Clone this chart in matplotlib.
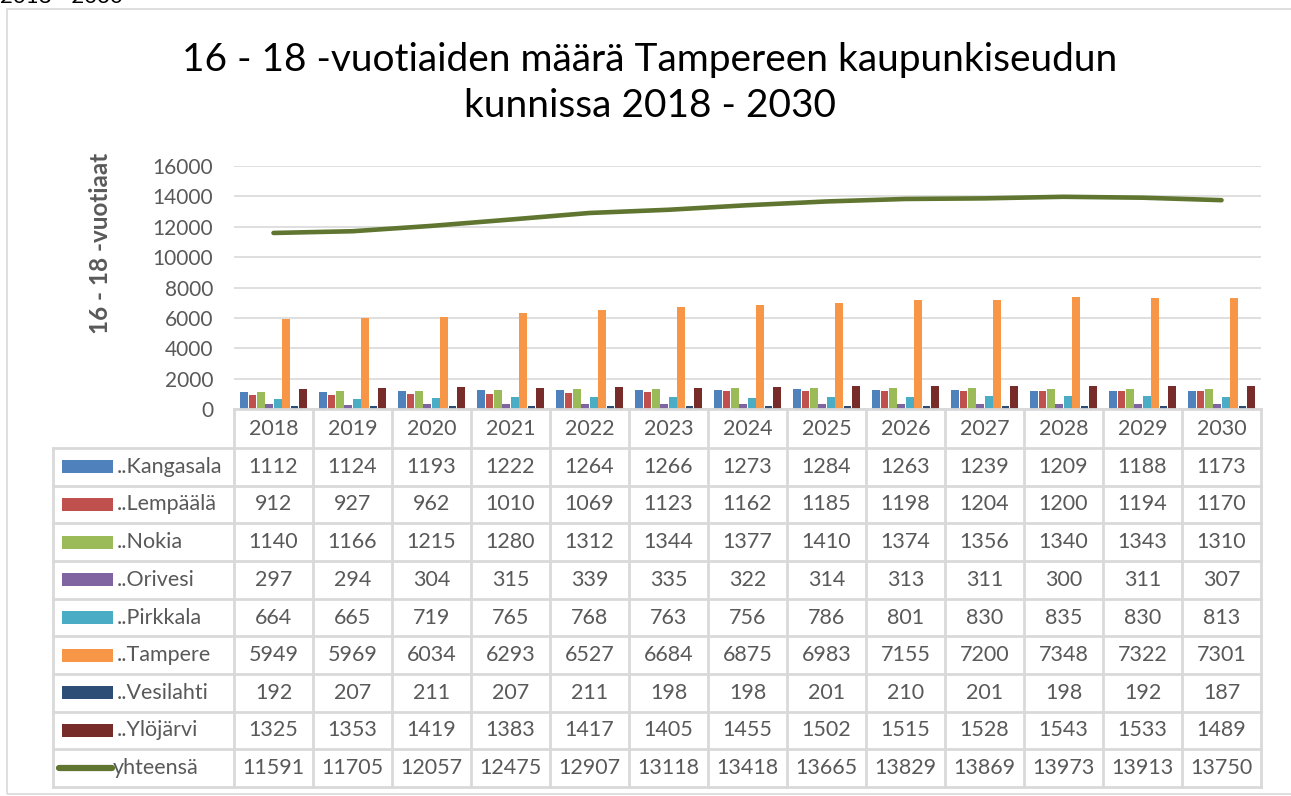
import matplotlib
matplotlib.use("Agg")
import matplotlib.pyplot as plt
from matplotlib.transforms import blended_transform_factory
from matplotlib.lines import Line2D
from matplotlib.patches import Rectangle

plt.rcParams['font.family'] = ['Lato', 'DejaVu Sans']

years = [2018, 2019, 2020, 2021, 2022, 2023, 2024, 2025, 2026, 2027, 2028, 2029, 2030]
kangasala = [1112, 1124, 1193, 1222, 1264, 1266, 1273, 1284, 1263, 1239, 1209, 1188, 1173]
lempaala = [912, 927, 962, 1010, 1069, 1123, 1162, 1185, 1198, 1204, 1200, 1194, 1170]
nokia = [1140, 1166, 1215, 1280, 1312, 1344, 1377, 1410, 1374, 1356, 1340, 1343, 1310]
orivesi = [297, 294, 304, 315, 339, 335, 322, 314, 313, 311, 300, 311, 307]
pirkkala = [664, 665, 719, 765, 768, 763, 756, 786, 801, 830, 835, 830, 813]
tampere = [5949, 5969, 6034, 6293, 6527, 6684, 6875, 6983, 7155, 7200, 7348, 7322, 7301]
vesilahti = [192, 207, 211, 207, 211, 198, 198, 201, 210, 201, 198, 192, 187]
ylojarvi = [1325, 1353, 1419, 1383, 1417, 1405, 1455, 1502, 1515, 1528, 1543, 1533, 1489]
yhteensa = [11591, 11705, 12057, 12475, 12907, 13118, 13418, 13665, 13829, 13869, 13973, 13913, 13750]

bar_names = ['..Kangasala', '..Lempäälä', '..Nokia', '..Orivesi', '..Pirkkala',
             '..Tampere', '..Vesilahti', '..Ylöjärvi']
bar_series = [kangasala, lempaala, nokia, orivesi, pirkkala, tampere, vesilahti, ylojarvi]
bar_colors = ['#4F81BD', '#C0504D', '#9BBB59', '#8064A2', '#4BACC6',
              '#F79646', '#2C4D75', '#772C2A']
line_name = 'yhteensä'
line_color = '#5F7530'
yticks = list(range(0, 16001, 2000))

W, H = 1291, 796
fig = plt.figure(figsize=(W / 100, H / 100), dpi=100)

def fx(px):
    return px / W

def fy(py):
    return 1 - py / H

ax_left, ax_right, ax_top, ax_bot = 234, 1261, 166, 409
ax = fig.add_axes([fx(ax_left), fy(ax_bot), fx(ax_right) - fx(ax_left), fy(ax_top) - fy(ax_bot)])
n = len(years)
ax.set_xlim(0, n)
ax.set_ylim(0, 16000)

slot = 0.106
bw = 0.098
for k, (vals, c) in enumerate(zip(bar_series, bar_colors)):
    xs = [i + 0.5 + (k - 3.5) * slot for i in range(n)]
    ax.bar(xs, vals, width=bw, color=c, zorder=3, linewidth=0)
ax.plot([i + 0.5 for i in range(n)], yhteensa, color=line_color, lw=3.3, zorder=4,
        solid_capstyle='round')

ax.set_yticks(yticks)
ax.set_yticklabels([str(v) for v in yticks], fontsize=15, color='#595959')
ax.tick_params(axis='y', length=0, pad=15)
ax.set_xticks([])
ax.grid(axis='y', color='#D9D9D9', lw=1.2, zorder=0)
for s in ax.spines.values():
    s.set_visible(False)

# y label
fig.text(fx(100), fy(243), '16 - 18 -vuotiaat', rotation=90, ha='center', va='center',
         fontsize=17.5, fontweight='bold', color='#595959')

# title
fig.text(fx(650), fy(60), '16 - 18 -vuotiaiden määrä Tampereen kaupunkiseudun',
         ha='center', va='center', fontsize=28, color='#000000')
fig.text(fx(650), fy(106), 'kunnissa 2018 - 2030',
         ha='center', va='center', fontsize=28, color='#000000')

# cut-off text at very top
fig.text(0.0, fy(3), '2018 - 2030', ha='left', va='baseline', fontsize=16, color='#000000')

# outer chart frame
fig.add_artist(Rectangle((fx(7), fy(794)), fx(1300) - fx(7), fy(9) - fy(794),
                         transform=fig.transFigure, fill=False, ec='#D9D9D9', lw=1.2))

# data table
tr = blended_transform_factory(ax.transData, fig.transFigure)
grid_c = '#D9D9D9'
head_top, head_bot = 409, 448
nrows = len(bar_series) + 1
row_h = (787 - 448) / nrows
table_left = 53
tbl_bot = head_bot + nrows * row_h

fig.add_artist(Line2D([fx(ax_left), fx(ax_right)], [fy(head_top), fy(head_top)],
                      transform=fig.transFigure, color=grid_c, lw=2))
for r in range(nrows + 1):
    yy = fy(head_bot + r * row_h)
    fig.add_artist(Line2D([fx(table_left), fx(ax_right)], [yy, yy],
                          transform=fig.transFigure, color=grid_c, lw=2))
for i in range(n + 1):
    fig.add_artist(Line2D([i, i], [fy(head_top), fy(tbl_bot)], transform=tr,
                          color=grid_c, lw=2))
fig.add_artist(Line2D([fx(table_left), fx(table_left)], [fy(head_bot), fy(tbl_bot)],
                      transform=fig.transFigure, color=grid_c, lw=2))

txt_c = '#595959'
fs = 15.5
for i, yv in enumerate(years):
    fig.text(i + 0.5, fy((head_top + head_bot) / 2 + 1), str(yv), transform=tr,
             ha='center', va='center', fontsize=fs, color=txt_c)

all_rows = list(zip(bar_names, bar_series, bar_colors)) + [(line_name, yhteensa, line_color)]
for r, (name, vals, c) in enumerate(all_rows):
    yc = head_bot + (r + 0.5) * row_h
    if r < len(bar_series):
        fig.add_artist(Rectangle((fx(62), fy(yc + 6.5)), fx(113) - fx(62), fy(yc - 6.5) - fy(yc + 6.5),
                                 transform=fig.transFigure, color=c, lw=0))
        tx = 117
    else:
        fig.add_artist(Line2D([fx(59), fx(112)], [fy(yc), fy(yc)], transform=fig.transFigure,
                              color=c, lw=4.5, solid_capstyle='round'))
        tx = 113
    fig.text(fx(tx), fy(yc), name, ha='left', va='center', fontsize=fs, color=txt_c)
    for i, v in enumerate(vals):
        fig.text(i + 0.5, fy(yc), str(v), transform=tr, ha='center', va='center',
                 fontsize=fs, color=txt_c)

fig.savefig('out.png', dpi=100, facecolor='white')
